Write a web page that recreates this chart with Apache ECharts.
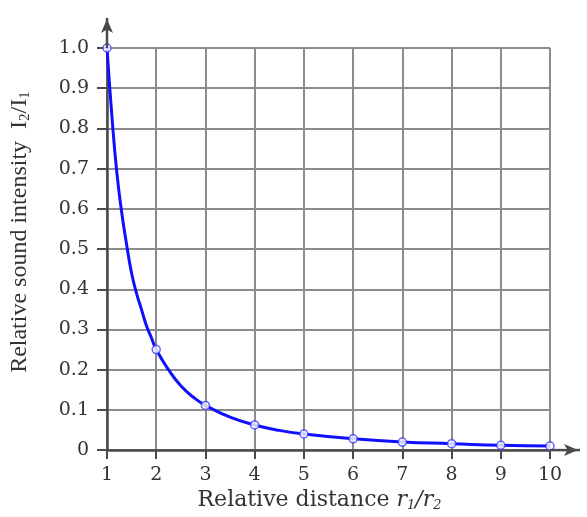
<!DOCTYPE html>
<html>
<head>
<meta charset="utf-8">
<script src="https://cdn.jsdelivr.net/npm/echarts@6/dist/echarts.min.js"></script>
<style>
  html, body { margin: 0; padding: 0; background: #fff; }
  #main { width: 587px; height: 517px; }
</style>
</head>
<body>
<div id="main"></div>
<script>
// marked points (r1/r2 = 1..10)
var distance = [1, 2, 3, 4, 5, 6, 7, 8, 9, 10];
var intensity = [1.0, 0.25, 0.111, 0.0625, 0.04, 0.028, 0.02, 0.016, 0.012, 0.01];

// the drawn curve
var curveX = [1, 1.1, 1.2, 1.3, 1.4, 1.5, 1.6, 1.7, 1.8, 1.9, 2, 2.25, 2.5, 2.75, 3, 3.5, 4, 4.5, 5, 6, 7, 8, 9, 10];
var curveY = [1.0, 0.83, 0.69, 0.59, 0.51, 0.44, 0.39, 0.35, 0.31, 0.28, 0.25, 0.2, 0.16, 0.132, 0.111, 0.082, 0.0625, 0.049, 0.04, 0.028, 0.02, 0.016, 0.012, 0.01];

var yTicks = ['0', '0.1', '0.2', '0.3', '0.4', '0.5', '0.6', '0.7', '0.8', '0.9', '1.0'];

var wide = '"DejaVu Serif", serif';
var times = '"Liberation Serif", serif';
var axisColor = '#4a4a4a';

var myChart = echarts.init(document.getElementById('main'));

var option = {
    backgroundColor: '#fff',
    animation: false,
    grid: { left: 105, right: 37, top: 48, bottom: 60 },
    xAxis: {
        type: 'value',
        min: 1, max: 10, interval: 1,
        name: '{n|Relative distance }{i|r}{s|1}{i|/r}{s|2}',
        nameLocation: 'middle',
        nameGap: 33,
        nameTextStyle: {
            padding: [0, 18, 0, 0],
            rich: {
                n: { fontFamily: wide, fontSize: 22, color: '#333', lineHeight: 24 },
                i: { fontFamily: wide, fontSize: 22, fontStyle: 'italic', color: '#333', lineHeight: 24 },
                s: { fontFamily: wide, fontSize: 13, fontStyle: 'italic', color: '#333', verticalAlign: 'bottom', lineHeight: 24 }
            }
        },
        axisLine: {
            lineStyle: { color: axisColor, width: 2.5 },
            symbol: ['none', 'arrow'], symbolSize: [9, 14], symbolOffset: [0, 28]
        },
        axisTick: { length: 9, lineStyle: { color: axisColor, width: 2 } },
        axisLabel: { fontFamily: wide, fontSize: 19, color: '#333', margin: 15 },
        splitLine: { lineStyle: { color: '#8c8c8c', width: 2 } }
    },
    yAxis: {
        type: 'value',
        min: 0, max: 1, interval: 0.1,
        name: '{n|Relative sound intensity  I}{s|2}{n|/I}{s|1}',
        nameLocation: 'middle',
        nameGap: 74,
        nameTextStyle: {
            padding: [0, 0, 0, 34],
            rich: {
                n: { fontFamily: times, fontSize: 24, color: '#333', lineHeight: 26 },
                s: { fontFamily: times, fontSize: 15, color: '#333', verticalAlign: 'bottom', lineHeight: 26 }
            }
        },
        axisLine: {
            lineStyle: { color: axisColor, width: 2.5 },
            symbol: ['none', 'arrow'], symbolSize: [9, 14], symbolOffset: [0, 29]
        },
        axisTick: { length: 10, lineStyle: { color: axisColor, width: 2 } },
        axisLabel: {
            fontFamily: wide, fontSize: 19, color: '#333', margin: 18,
            formatter: function (v) { return yTicks[Math.round(v * 10)]; }
        },
        splitLine: { lineStyle: { color: '#8c8c8c', width: 2 } }
    },
    series: [
        {
            name: 'curve',
            type: 'line',
            smooth: true,
            showSymbol: false,
            lineStyle: { color: '#1010ff', width: 3 },
            data: curveX.map(function (x, i) { return [x, curveY[i]]; }),
            z: 3
        },
        {
            name: 'points',
            type: 'scatter',
            symbol: 'circle',
            symbolSize: 8,
            itemStyle: { color: '#fff', borderColor: '#3a3aff', borderWidth: 1.5 },
            data: distance.map(function (x, i) { return [x, intensity[i]]; }),
            z: 4
        }
    ]
};

myChart.setOption(option);

// axis lines run past the grid up to the arrow heads
var o = myChart.convertToPixel({ gridIndex: 0 }, [1, 0]);
var t = myChart.convertToPixel({ gridIndex: 0 }, [10, 1]);
myChart.setOption({
    graphic: [
        { type: 'line', shape: { x1: o[0], y1: t[1], x2: o[0], y2: t[1] - 30 }, style: { stroke: axisColor, lineWidth: 2.5 }, z: 5 },
        { type: 'line', shape: { x1: t[0], y1: o[1], x2: t[0] + 30, y2: o[1] }, style: { stroke: axisColor, lineWidth: 2.5 }, z: 5 }
    ]
});
</script>
</body>
</html>
